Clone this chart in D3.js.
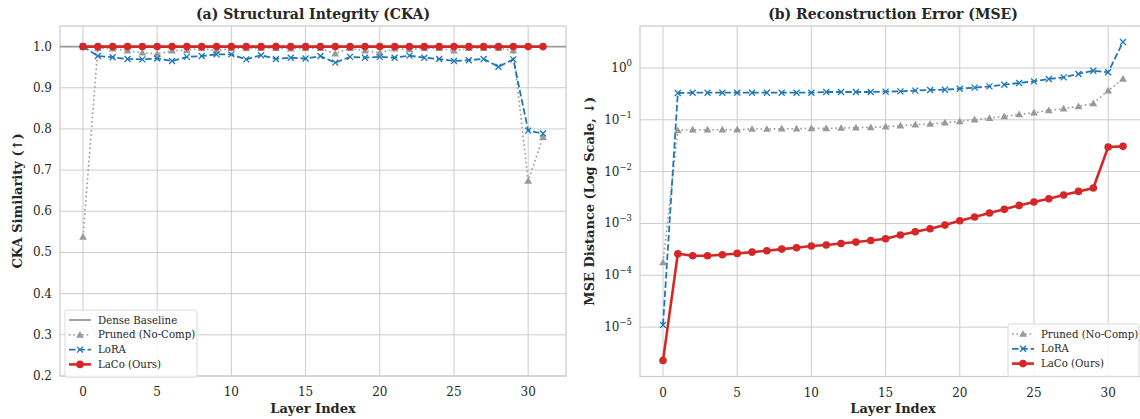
<!DOCTYPE html>
<html><head><meta charset="utf-8">
<script src="https://cdn.jsdelivr.net/npm/d3@7/dist/d3.min.js"></script>
<style>
body{margin:0;background:#fff;}
svg{display:block;font-family:"DejaVu Serif",serif;}
</style></head><body>
<svg id="c" width="1140" height="419"></svg>
<script>
// ---------- data ----------
const layers = d3.range(0, 32);
const xTicks = [0, 5, 10, 15, 20, 25, 30];
const ckaTicks = [0.2, 0.3, 0.4, 0.5, 0.6, 0.7, 0.8, 0.9, 1.0];
const mseTicks = [1e-5, 1e-4, 1e-3, 1e-2, 1e-1, 1e0];
const mseTickExp = ["\u22125", "\u22124", "\u22123", "\u22122", "\u22121", "0"];

const denseCKA = 1.0;
const prunedCKA = [0.538, 0.996, 0.995, 0.990, 0.985, 0.982, 0.990, 0.991, 0.996, 0.990,
  0.996, 0.996, 0.996, 0.996, 0.995, 0.996, 0.996, 0.983, 0.996, 0.990,
  0.985, 0.995, 0.993, 0.996, 0.996, 0.990, 0.996, 0.996, 0.996, 0.991,
  0.674, 0.780];
const loraCKA = [1.0, 0.977, 0.974, 0.970, 0.969, 0.971, 0.965, 0.975, 0.977, 0.981,
  0.981, 0.969, 0.979, 0.970, 0.973, 0.971, 0.977, 0.961, 0.975, 0.973,
  0.975, 0.973, 0.978, 0.973, 0.970, 0.965, 0.967, 0.970, 0.951, 0.969,
  0.796, 0.789];
const lacoCKA = [1, 1, 1, 1, 1, 1, 1, 1, 1, 1, 1, 1, 1, 1, 1, 1,
  1, 1, 1, 1, 1, 1, 1, 1, 1, 1, 1, 1, 1, 1, 1, 1];

const prunedMSE = [1.77e-4, 0.0624, 0.0644, 0.0644, 0.0644, 0.0644, 0.0664, 0.0664, 0.0673, 0.0673,
  0.0684, 0.0684, 0.0694, 0.0704, 0.0715, 0.0736, 0.0769, 0.0805, 0.0829, 0.0879,
  0.0933, 0.1006, 0.108, 0.116, 0.127, 0.137, 0.152, 0.164, 0.182, 0.207,
  0.365, 0.613];
const loraMSE = [1.1e-5, 0.329, 0.333, 0.333, 0.333, 0.333, 0.333, 0.333, 0.333, 0.333,
  0.333, 0.344, 0.344, 0.344, 0.344, 0.350, 0.354, 0.365, 0.376, 0.381,
  0.398, 0.417, 0.442, 0.476, 0.513, 0.552, 0.612, 0.659, 0.766, 0.887,
  0.824, 3.18];
const lacoMSE = [2.26e-6, 2.6e-4, 2.38e-4, 2.38e-4, 2.49e-4, 2.64e-4, 2.8e-4, 2.97e-4, 3.2e-4, 3.4e-4,
  3.66e-4, 3.83e-4, 4.1e-4, 4.37e-4, 4.7e-4, 5.07e-4, 5.97e-4, 6.9e-4, 7.9e-4, 9.3e-4,
  1.13e-3, 1.33e-3, 1.59e-3, 1.87e-3, 2.23e-3, 2.59e-3, 3.0e-3, 3.53e-3, 4.15e-3, 4.82e-3,
  0.0299, 0.0307];

// ---------- styles ----------
const C = {grid:"#cccccc", spine:"#cccccc", text:"#262626", gray:"#999999",
  blue:"#1f77b4", red:"#d62728"};
const svg = d3.select("#c");

function panel(o){
  const g = svg.append("g");
  const x = d3.scaleLinear().domain([-1.55, 32.55]).range([o.left, o.right]);
  const y = o.y;
  const [yb, yt] = y.range();
  const clipId = "clip" + o.id;
  svg.append("clipPath").attr("id", clipId).append("rect")
    .attr("x", o.left).attr("y", yt).attr("width", o.right - o.left).attr("height", yb - yt);
  // grid
  g.append("g").selectAll("line").data(xTicks).join("line")
    .attr("x1", d => x(d)).attr("x2", d => x(d)).attr("y1", yt).attr("y2", yb)
    .attr("stroke", C.grid).attr("stroke-width", 1);
  g.append("g").selectAll("line").data(o.yTicks).join("line")
    .attr("x1", o.left).attr("x2", o.right).attr("y1", d => y(d)).attr("y2", d => y(d))
    .attr("stroke", C.grid).attr("stroke-width", 1);
  // x tick labels
  g.append("g").selectAll("text").data(xTicks).join("text")
    .attr("x", d => x(d)).attr("y", yb + 20).attr("text-anchor", "middle")
    .attr("font-size", 12).attr("fill", C.text).text(d => d);
  // y tick labels
  const yl = g.append("g").selectAll("text").data(o.yTicks).join("text")
    .attr("x", o.left - 8).attr("y", d => y(d) + 4).attr("text-anchor", "end")
    .attr("font-size", 12).attr("fill", C.text);
  if (o.log) {
    yl.each(function(d, i){
      const t = d3.select(this);
      t.append("tspan").text("10");
      t.append("tspan").attr("dy", -6).attr("font-size", 8.5).text(mseTickExp[i]);
    });
  } else {
    yl.text(d => d.toFixed(1));
  }
  // spines
  g.append("rect").attr("x", o.left).attr("y", yt).attr("width", o.right - o.left)
    .attr("height", yb - yt).attr("fill", "none").attr("stroke", C.spine).attr("stroke-width", 1.25);
  // titles
  svg.append("text").attr("x", (o.left + o.right) / 2).attr("y", 19).attr("text-anchor", "middle")
    .attr("font-size", 14).attr("font-weight", "bold").attr("fill", C.text).text(o.title);
  svg.append("text").attr("x", (o.left + Math.min(o.right, 1146)) / 2).attr("y", 413).attr("text-anchor", "middle")
    .attr("font-size", 13).attr("font-weight", "bold").attr("fill", C.text).text("Layer Index");
  svg.append("text").attr("transform", `translate(${o.ylabX},${(yt + yb) / 2}) rotate(-90)`)
    .attr("text-anchor", "middle").attr("font-size", 13).attr("font-weight", "bold")
    .attr("fill", C.text).text(o.ylabel);

  const lg = g.append("g").attr("clip-path", `url(#${clipId})`);
  if (o.dense !== undefined) {
    lg.append("line").attr("x1", o.left).attr("x2", o.right)
      .attr("y1", y(o.dense)).attr("y2", y(o.dense))
      .attr("stroke", C.gray).attr("stroke-width", 1.8);
  }
  const line = d3.line().x((d, i) => x(layers[i])).y(d => y(d));
  // pruned
  lg.append("path").datum(o.pruned).attr("d", line).attr("fill", "none")
    .attr("stroke", C.gray).attr("stroke-width", 1.6).attr("stroke-dasharray", "1.6,2.8");
  const tri = d3.symbol().type(d3.symbolTriangle).size(26);
  g.append("g").selectAll("path").data(o.pruned).join("path")
    .attr("d", tri).attr("transform", (d, i) => `translate(${x(layers[i])},${y(d) + 0.6})`)
    .attr("fill", C.gray);
  // lora
  lg.append("path").datum(o.lora).attr("d", line).attr("fill", "none")
    .attr("stroke", C.blue).attr("stroke-width", 1.8).attr("stroke-dasharray", "6.5,2.8");
  g.append("g").selectAll("path").data(o.lora).join("path")
    .attr("d", "M-3,-3L3,3M-3,3L3,-3").attr("transform", (d, i) => `translate(${x(layers[i])},${y(d)})`)
    .attr("stroke", C.blue).attr("stroke-width", 1.3).attr("fill", "none");
  // laco
  lg.append("path").datum(o.laco).attr("d", line).attr("fill", "none")
    .attr("stroke", C.red).attr("stroke-width", 2.6);
  g.append("g").selectAll("circle").data(o.laco).join("circle")
    .attr("cx", (d, i) => x(layers[i])).attr("cy", d => y(d)).attr("r", 3.8).attr("fill", C.red);

  // legend
  const L = o.legend;
  const lgd = svg.append("g");
  lgd.append("rect").attr("x", L.x).attr("y", L.y).attr("width", L.w).attr("height", L.items.length * 14.8 + 8)
    .attr("rx", 2).attr("fill", "#fff").attr("fill-opacity", 0.85).attr("stroke", "#d9d9d9").attr("stroke-width", 1);
  L.items.forEach((it, i) => {
    const cy = L.y + 10 + i * 14.8;
    const hx1 = L.x + 4, hx2 = L.x + 26, hm = (hx1 + hx2) / 2;
    const ln = lgd.append("line").attr("x1", hx1).attr("x2", hx2).attr("y1", cy).attr("y2", cy);
    if (it === "dense") ln.attr("stroke", C.gray).attr("stroke-width", 1.8);
    if (it === "pruned") {
      ln.attr("stroke", C.gray).attr("stroke-width", 1.6).attr("stroke-dasharray", "1.6,2.8");
      lgd.append("path").attr("d", tri).attr("transform", `translate(${hm},${cy + 0.6})`).attr("fill", C.gray);
    }
    if (it === "lora") {
      ln.attr("stroke", C.blue).attr("stroke-width", 1.8).attr("stroke-dasharray", "6.5,2.8");
      lgd.append("path").attr("d", "M-3,-3L3,3M-3,3L3,-3").attr("transform", `translate(${hm},${cy})`)
        .attr("stroke", C.blue).attr("stroke-width", 1.3);
    }
    if (it === "laco") {
      ln.attr("stroke", C.red).attr("stroke-width", 2.6);
      lgd.append("circle").attr("cx", hm).attr("cy", cy).attr("r", 3.8).attr("fill", C.red);
    }
    const names = {dense:"Dense Baseline", pruned:"Pruned (No-Comp)", lora:"LoRA", laco:"LaCo (Ours)"};
    lgd.append("text").attr("x", L.x + 33).attr("y", cy + 3.6).attr("font-size", 10.2)
      .attr("fill", C.text).text(names[it]);
  });
}

// left panel
panel({
  id: "a", left: 60, right: 566,
  y: d3.scaleLinear().domain([0.2, 1.05]).range([376, 26]),
  yTicks: ckaTicks, log: false,
  title: "(a) Structural Integrity (CKA)",
  ylabel: "CKA Similarity (\u2191)", ylabX: 22,
  dense: denseCKA, pruned: prunedCKA, lora: loraCKA, laco: lacoCKA,
  legend: {x: 65, y: 310, w: 132, items: ["dense", "pruned", "lora", "laco"]}
});

// right panel: log y with 5% margins in log space
const allMSE = prunedMSE.concat(loraMSE, lacoMSE);
const lmin = Math.log10(d3.min(allMSE)), lmax = Math.log10(d3.max(allMSE));
const lpad = (lmax - lmin) * 0.05;
panel({
  id: "b", left: 640, right: 1146,
  y: d3.scaleLog().domain([Math.pow(10, lmin - lpad), Math.pow(10, lmax + lpad)]).range([376.5, 26]),
  yTicks: mseTicks, log: true,
  title: "(b) Reconstruction Error (MSE)",
  ylabel: "MSE Distance (Log Scale, \u2193)", ylabX: 594,
  pruned: prunedMSE, lora: loraMSE, laco: lacoMSE,
  legend: {x: 1008, y: 324, w: 131, items: ["pruned", "lora", "laco"]}
});
</script>
</body></html>
